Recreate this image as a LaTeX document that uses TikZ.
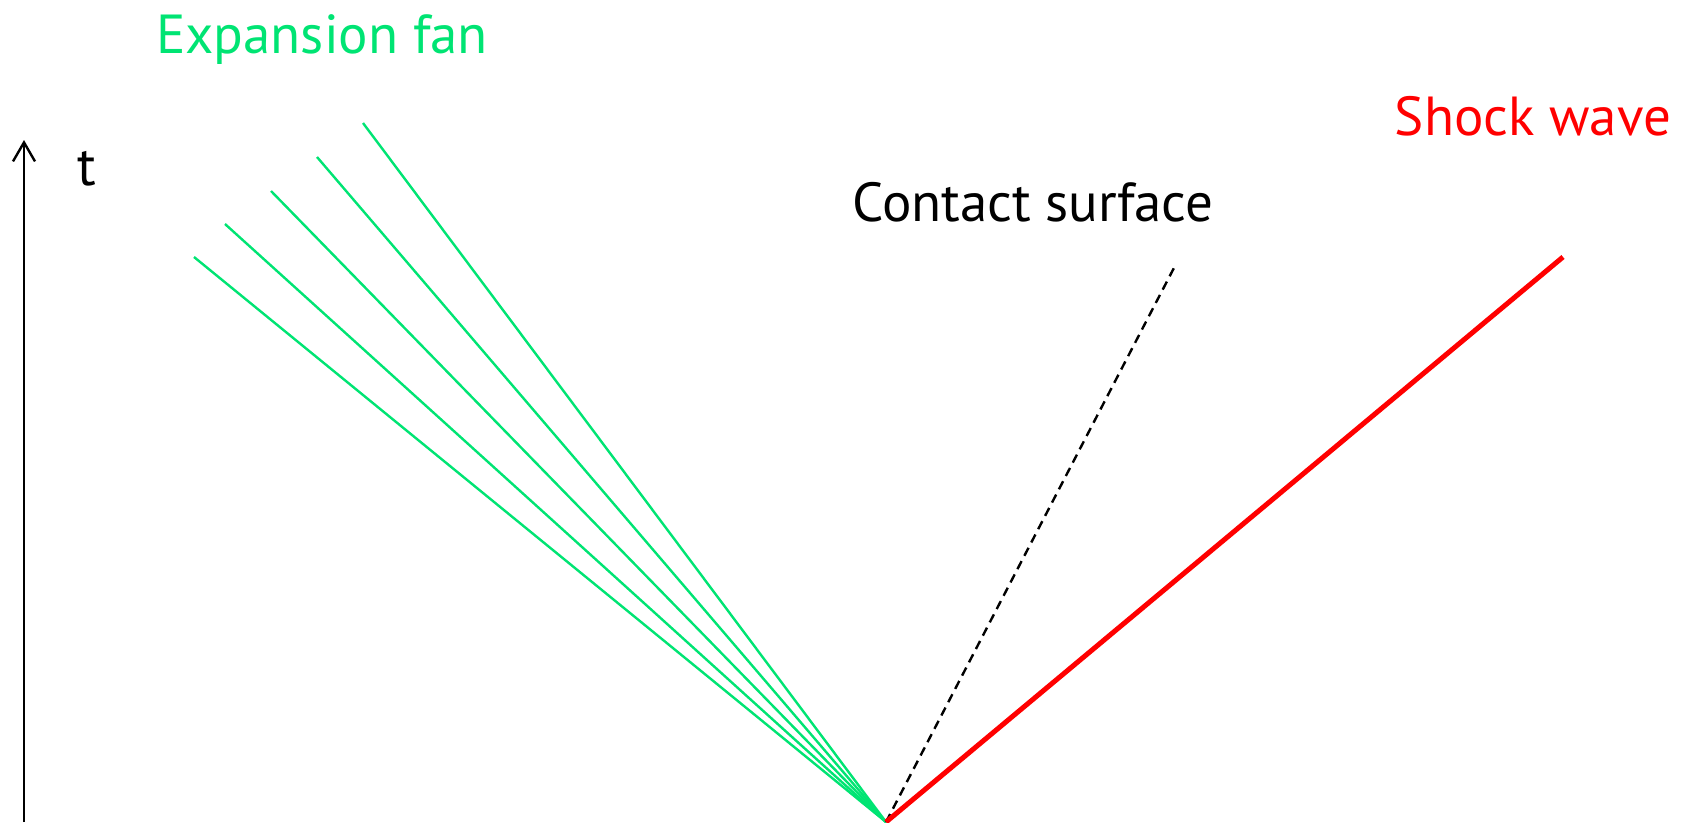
\documentclass[tikz,border=0pt]{standalone}
\usepackage{fontspec}
\setmainfont{PT Sans}
\usetikzlibrary{arrows.meta}
\definecolor{fangreen}{RGB}{0,228,115}
\definecolor{shockred}{RGB}{255,0,0}
\begin{document}
\begin{tikzpicture}[x=1pt,y=-1pt,
  fanline/.style={draw=fangreen,line width=2.4pt},
  shockline/.style={draw=shockred,line width=5pt},
  contactline/.style={draw=black,line width=2.4pt,dash pattern=on 9pt off 6pt},
  axisline/.style={draw=black,line width=2.4pt,-{Straight Barb[length=19pt,width=22pt,line width=2.4pt]}},
  lbl/.style={font=\fontsize{55}{64}\selectfont,inner sep=0pt,anchor=base}]
\useasboundingbox (0,0) rectangle (1681,822);
\coordinate (o) at (886,822);
\coordinate (ab) at (24,822);
\coordinate (at) at (24,140);
\coordinate (f1) at (194,257);
\coordinate (f2) at (225,224);
\coordinate (f3) at (271,191);
\coordinate (f4) at (317,157);
\coordinate (f5) at (363,123);
\coordinate (c) at (1176,264);
\coordinate (s) at (1563,257);
\draw[axisline] (ab) -- (at);
\node[lbl] (tlab) at (87,185) {t};
\foreach \i in {1,...,5} \draw[fanline] (o) -- (f\i);
\draw[contactline] (o) -- (c);
\draw[shockline] (o) -- (s);
\node[lbl,text=fangreen] (fanlab) at (322,53) {Expansion fan};
\node[lbl] (conlab) at (1033,221) {Contact surface};
\node[lbl,text=shockred] (shocklab) at (1533,135) {Shock wave};
\end{tikzpicture}
\end{document}
